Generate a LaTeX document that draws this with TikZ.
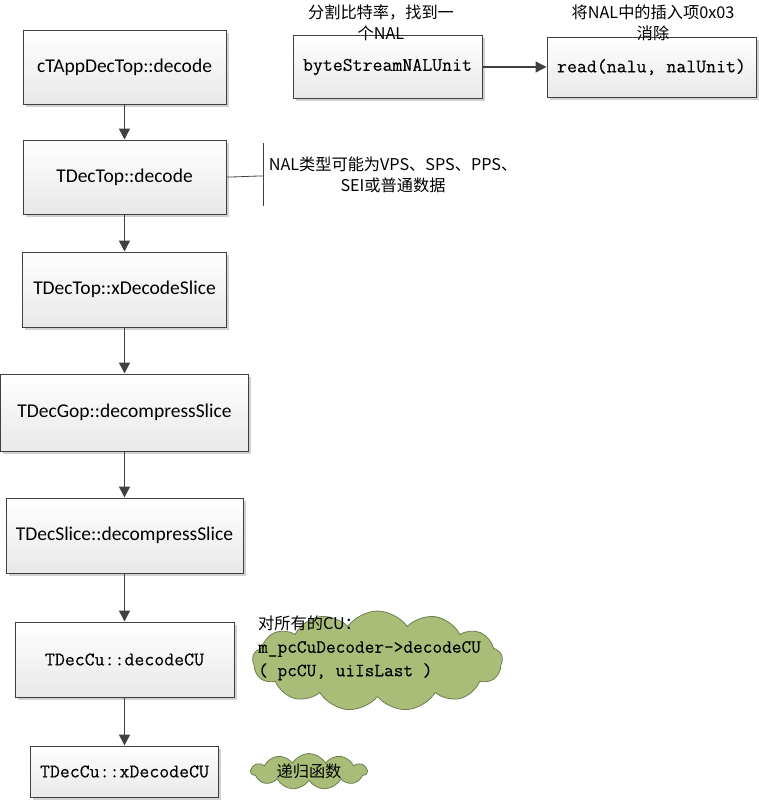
\documentclass[tikz,border=0pt]{standalone}
\usepackage{fontspec}
\setmainfont{Carlito}
\newfontfamily\cjk{Noto Sans CJK SC}
\newfontfamily\monof[FakeBold=0.15]{Latin Modern Mono}
\usetikzlibrary{arrows.meta,shapes.symbols,shadows}
\definecolor{edgec}{HTML}{404040}
\definecolor{cloudfill}{RGB}{169,189,120}
\definecolor{clouddraw}{RGB}{110,125,80}
\tikzset{
  px/.style={x=1pt,y=-1pt},
  fbox/.style={draw=edgec, line width=1pt, top color=white, bottom color=black!9,
    drop shadow={shadow xshift=2.5pt,shadow yshift=-2.5pt,fill=black!30,opacity=0.6},
    inner sep=0pt, anchor=center},
  sanslab/.style={font=\fontsize{19.5}{23}\selectfont},
  monolab/.style={font=\monof\fontsize{19.3}{22}\selectfont},
  cjklab/.style={font=\cjk\fontsize{16.2}{20.5}\selectfont, align=center, inner sep=0pt},
  flow/.style={draw=edgec, line width=1.4pt, -{Triangle[length=11pt,width=11pt]}},
  cloudshape/.style={cloud, cloud puffs=13, cloud puff arc=110, aspect=2.4, draw=clouddraw, fill=cloudfill, line width=0.8pt, inner sep=0pt},
}
\begin{document}
\begin{tikzpicture}[px]
\useasboundingbox (0,0) rectangle (759,801);
% main column
\node[fbox, sanslab, minimum width=203pt, minimum height=74pt] (b1) at (124.5,67) {cTAppDecTop::decode};
\node[fbox, sanslab, minimum width=203pt, minimum height=74pt] (b2) at (124.5,177) {TDecTop::decode};
\node[fbox, sanslab, minimum width=204pt, minimum height=75pt] (b3) at (124.5,289.5) {TDecTop::xDecodeSlice};
\node[fbox, sanslab, minimum width=248pt, minimum height=77pt] (b4) at (124.5,412.5) {TDecGop::decompressSlice};
\node[fbox, sanslab, minimum width=237pt, minimum height=75pt] (b5) at (124.5,535.5) {TDecSlice::decompressSlice};
\node[fbox, monolab, minimum width=219pt, minimum height=75pt] (b6) at (124.5,659.5) {TDecCu::decodeCU};
\node[fbox, monolab, minimum width=188pt, minimum height=51pt] (b7) at (124.5,771.5) {TDecCu::xDecodeCU};
% top right
\node[fbox, monolab, minimum width=189pt, minimum height=63pt] (bs) at (387.5,67) {byteStreamNALUnit};
\node[fbox, monolab, minimum width=209pt, minimum height=60pt] (rd) at (651.5,67) {read(nalu, nalUnit)};
% arrows
\draw[flow] (b1) -- (b2);
\draw[flow] (b2) -- (b3);
\draw[flow] (b3) -- (b4);
\draw[flow] (b4) -- (b5);
\draw[flow] (b5) -- (b6);
\draw[flow] (b6) -- (b7);
\draw[flow] (bs) -- (rd);
% labels above top-right boxes
\node[cjklab] (t1) at (381,23) {分割比特率，找到一\\个NAL};
\node[cjklab] (t2) at (653,23) {将NAL中的插入项0x03\\消除};
% NAL annotation
\coordinate (brt) at (263,143);
\coordinate (brb) at (263,206);
\coordinate (brm) at (263,176);
\draw[edgec, line width=0.8pt] (brt) -- (brb);
\draw[edgec, line width=0.8pt] (b2.east) .. controls (240,177) and (250,176) .. (brm);
\node[cjklab] (t3) at (393,175) {NAL类型可能为VPS、SPS、PPS、\\SEI或普通数据};
% clouds
\node[cloudshape, minimum width=250pt, minimum height=100pt] (c1) at (377.5,661) {};
\node[anchor=west, align=left, inner sep=0pt, font=\monof\fontsize{18.8}{23.5}\selectfont] (c1t) at (258,648)
  {{\cjk\fontsize{16.2}{20}\selectfont 对所有的CU：}\\m\_pcCuDecoder->decodeCU\\( pcCU, uiIsLast )};
\node[cloudshape, cloud puffs=11, cloud puff arc=120, cloud ignores aspect, minimum width=116pt, minimum height=36pt] (c2) at (309,771.5) {};
\node[cjklab] (c2t) at (309,771) {递归函数};
\end{tikzpicture}
\end{document}
